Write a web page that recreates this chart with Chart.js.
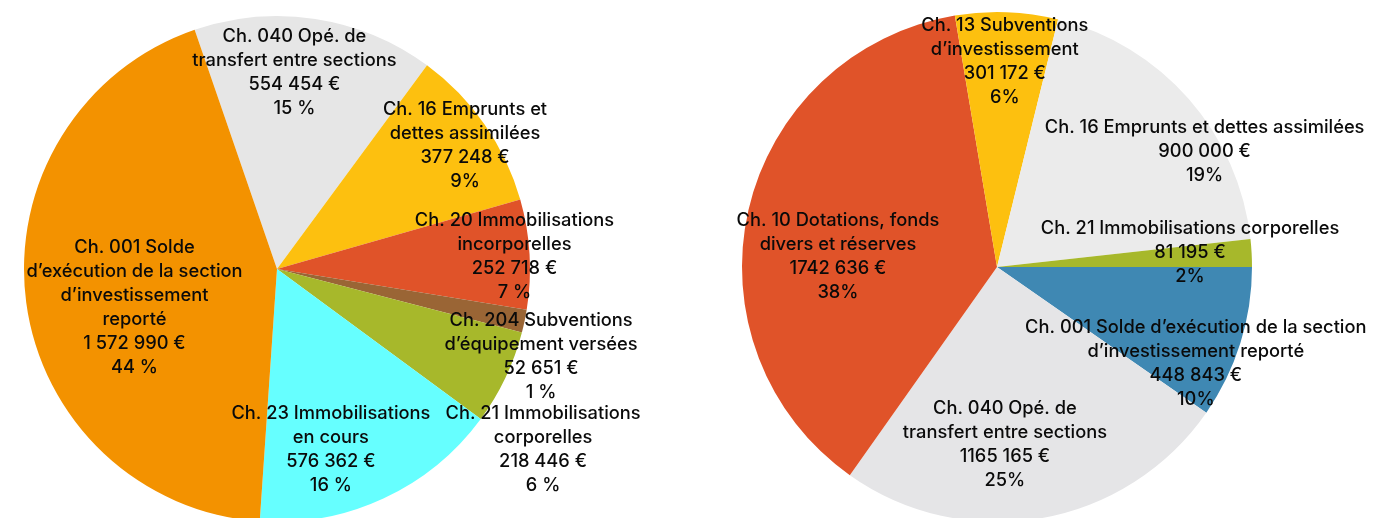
<!DOCTYPE html>
<html>
<head>
<meta charset="utf-8">
<script src="https://cdn.jsdelivr.net/npm/chart.js@4/dist/chart.umd.min.js"></script>
<style>
  html, body { margin: 0; padding: 0; background: #ffffff; overflow: hidden; width: 1374px; height: 518px; }
  canvas { position: absolute; left: 0; top: 0; }
</style>
</head>
<body>
<canvas id="left" width="1374" height="538"></canvas>
<canvas id="right" width="1374" height="538"></canvas>
<script>
// ---------- Left pie data ----------
const leftCategories = [
  ["Ch. 040 Opé. de", "transfert entre sections"],
  ["Ch. 16 Emprunts et", "dettes assimilées"],
  ["Ch. 20 Immobilisations", "incorporelles"],
  ["Ch. 204 Subventions", "d’équipement versées"],
  ["Ch. 21 Immobilisations", "corporelles"],
  ["Ch. 23 Immobilisations", "en cours"],
  ["Ch. 001 Solde", "d’exécution de la section", "d’investissement", "reporté"]
];
const leftValues = [554454, 377248, 252718, 52651, 218446, 576362, 1572990];
const leftValueLabels = ["554 454 €", "377 248 €", "252 718 €", "52 651 €", "218 446 €", "576 362 €", "1 572 990 €"];
const leftPercentLabels = ["15 %", "9%", "7 %", "1 %", "6 %", "16 %", "44 %"];

// ---------- Right pie data ----------
const rightCategories = [
  ["Ch. 001 Solde d’exécution de la section", "d’investissement reporté"],
  ["Ch. 040 Opé. de", "transfert entre sections"],
  ["Ch. 10 Dotations, fonds", "divers et réserves"],
  ["Ch. 13 Subventions", "d’investissement"],
  ["Ch. 16 Emprunts et dettes assimilées"],
  ["Ch. 21 Immobilisations corporelles"]
];
const rightValues = [448843, 1165165, 1742636, 301172, 900000, 81195];
const rightValueLabels = ["448 843 €", "1165 165 €", "1742 636 €", "301 172 €", "900 000 €", "81 195 €"];
const rightPercentLabels = ["10%", "25%", "38%", "6%", "19%", "2%"];

// ---------- Styles ----------
const leftColors = ["#E6E6E6", "#FDC00F", "#E05329", "#9A6535", "#A7B82B", "#66FFFF", "#F39200"];
const rightColors = ["#3F88B3", "#E5E5E7", "#E05329", "#FDC00F", "#EBEBEB", "#A7B82B"];

// label placement: [radius fraction, angular offset in degrees from slice middle]
const leftLabelPlace = [[0.778, -3.6], [0.889, 1.5], [0.94, 0.4], [1.10, 6.5], [1.27, 8.65], [0.743, 8.2], [0.583, -7.4]];
const rightLabelPlace = [[0.866, 8.4], [0.695, 7.4], [0.625, -9.2], [0.807, 0.0], [0.931, 12.2], [0.759, -1.0]];

const FONT = '500 18.3px Inter, "Noto Sans", sans-serif';
const LINE_H = 24;

const sliceLabels = {
  id: 'sliceLabels',
  afterDatasetsDraw(chart, args, opts) {
    const ctx = chart.ctx;
    const meta = chart.getDatasetMeta(0);
    ctx.save();
    ctx.font = FONT;
    ctx.fillStyle = '#0a0a0a';
    ctx.textAlign = 'center';
    ctx.textBaseline = 'middle';
    meta.data.forEach((arc, i) => {
      const p = arc.getProps(['x', 'y', 'startAngle', 'endAngle', 'outerRadius'], true);
      const place = opts.place[i];
      const mid = (p.startAngle + p.endAngle) / 2 + place[1] * Math.PI / 180;
      const r = p.outerRadius * place[0];
      const cx = p.x + Math.cos(mid) * r;
      const cy = p.y + Math.sin(mid) * r;
      const lines = [...opts.categories[i], opts.valueLabels[i], opts.percentLabels[i]];
      const n = lines.length;
      lines.forEach((t, k) => {
        ctx.fillText(t, cx, cy + (k - (n - 1) / 2) * LINE_H);
      });
    });
    ctx.restore();
  }
};

function makePie(id, categories, values, colors, valueLabels, percentLabels, place, rotation, radius, padding) {
  return new Chart(document.getElementById(id), {
    type: 'pie',
    data: {
      labels: categories.map(c => c.join(' ')),
      datasets: [{
        data: values,
        backgroundColor: colors,
        borderWidth: 0,
        clip: false
      }]
    },
    options: {
      responsive: false,
      animation: false,
      rotation: rotation,
      radius: radius,
      layout: { padding: padding },
      plugins: {
        legend: { display: false },
        tooltip: { enabled: false },
        sliceLabels: { categories, valueLabels, percentLabels, place }
      }
    },
    plugins: [sliceLabels]
  });
}

makePie('left', leftCategories, leftValues, leftColors, leftValueLabels, leftPercentLabels,
  leftLabelPlace, -19, 253, { left: 0, right: 820, top: 0, bottom: 0 });
makePie('right', rightCategories, rightValues, rightColors, rightValueLabels, rightPercentLabels,
  rightLabelPlace, 90, 255, { left: 697, right: 77, top: 0, bottom: 4 });
</script>
</body>
</html>
